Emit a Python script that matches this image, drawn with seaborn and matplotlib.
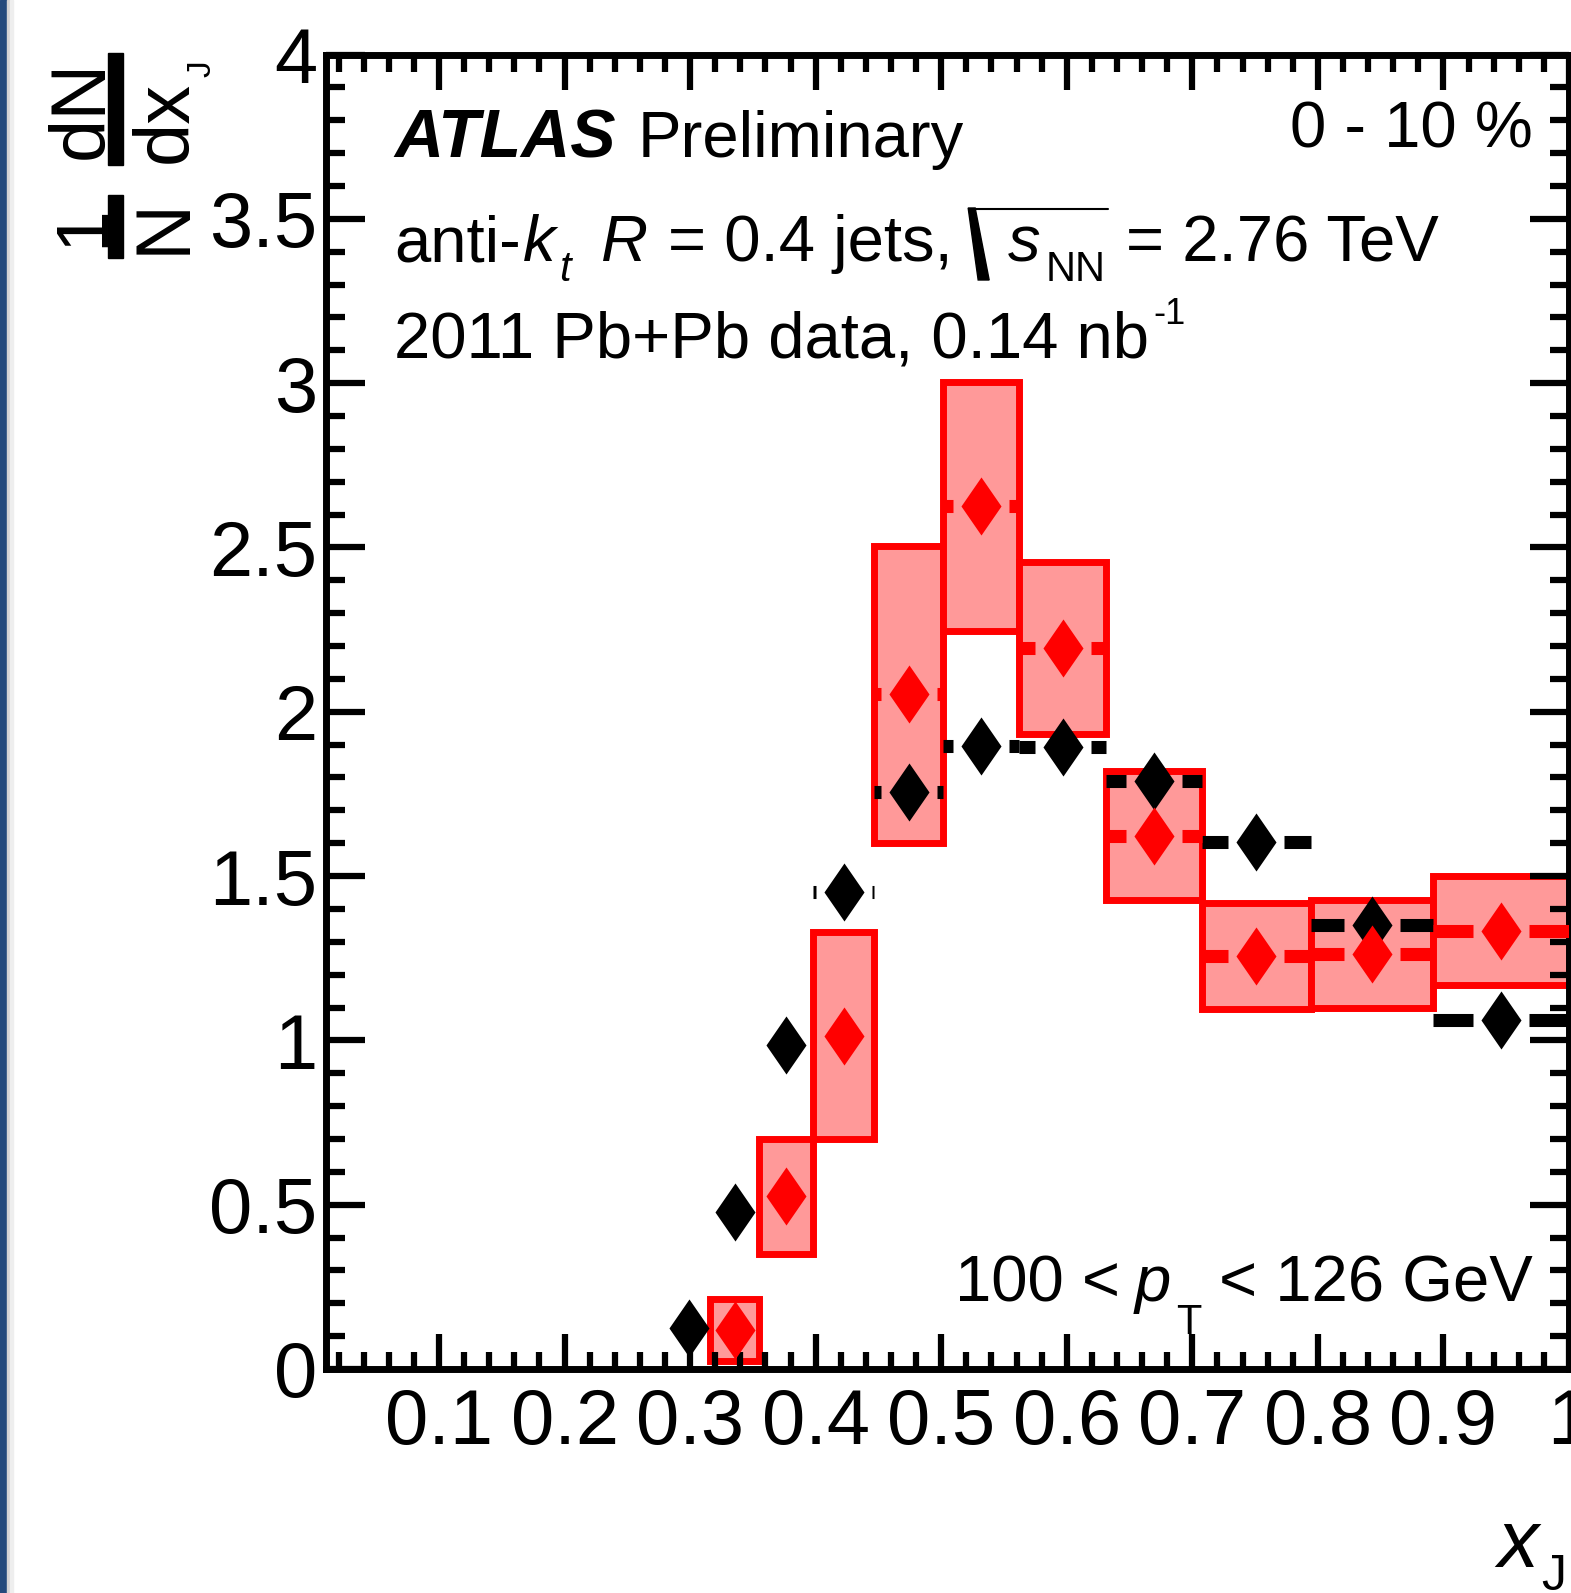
import matplotlib
matplotlib.use("Agg")
import matplotlib.pyplot as plt
import seaborn as sns
from matplotlib.patches import Rectangle, Polygon
from matplotlib.lines import Line2D
from matplotlib.ticker import MultipleLocator, FuncFormatter

# ---------------------------------------------------------------- data
# x_J bin edges (20 bins per decade)
pp_edges = [0.2818, 0.3162, 0.3548, 0.3981, 0.4467, 0.5012,
            0.5623, 0.6310, 0.7079, 0.7943, 0.8913, 1.0]
pp_values = [0.124, 0.477, 0.985, 1.451, 1.757, 1.897,
             1.894, 1.788, 1.603, 1.352, 1.062]

pbpb_edges = [0.3162, 0.3548, 0.3981, 0.4467, 0.5012,
              0.5623, 0.6310, 0.7079, 0.7943, 0.8913, 1.0]
pbpb_values = [0.119, 0.525, 1.014, 2.053, 2.625,
               2.194, 1.623, 1.257, 1.263, 1.334]
pbpb_sys = [0.094, 0.176, 0.315, 0.452, 0.379,
            0.263, 0.196, 0.162, 0.165, 0.166]

x_tick_values = [0.1, 0.2, 0.3, 0.4, 0.5, 0.6, 0.7, 0.8, 0.9, 1.0]
y_tick_values = [0, 0.5, 1, 1.5, 2, 2.5, 3, 3.5, 4]

# ---------------------------------------------------------------- style
sns.set_style("ticks")
plt.rcParams["font.family"] = ["Liberation Sans", "DejaVu Sans"]
plt.rcParams["text.color"] = "black"

W, H = 1571, 1593
fig = plt.figure(figsize=(W / 100, H / 100), dpi=100)
fig.patch.set_facecolor("white")


def fx(px):
    return px / W


def fy(py):
    return 1 - py / H


ax = fig.add_axes([fx(326), fy(1369), (1569 - 326) / W, (1369 - 54.5) / H])
ax.set_xlim(0.01, 1.0)
ax.set_ylim(0, 4)
ax.set_axisbelow(False)

RED = "#ff0000"
PINK = "#ff9999"


def centers(edges):
    return [(a + b) / 2 for a, b in zip(edges[:-1], edges[1:])]


pp_x = centers(pp_edges)
pbpb_x = centers(pbpb_edges)

# systematic boxes for Pb+Pb
lo = [v - s for v, s in zip(pbpb_values, pbpb_sys)]
hgt = [2 * s for s in pbpb_sys]
wid = [b - a for a, b in zip(pbpb_edges[:-1], pbpb_edges[1:])]
ax.bar(pbpb_edges[:-1], hgt, width=wid, bottom=lo, align="edge",
       facecolor=PINK, edgecolor=RED, linewidth=5.0, zorder=2)

# horizontal bin-width bars, interrupted around the marker
fig.canvas.draw()
renderer = fig.canvas.get_renderer()
px_per_x = ax.transData.transform((1, 0))[0] - ax.transData.transform((0, 0))[0]
gap = 28 / px_per_x


def bin_bars(edges, xs, ys, color, z):
    segs_x0, segs_x1, segs_y = [], [], []
    for a, b, c, y in zip(edges[:-1], edges[1:], xs, ys):
        if c - gap > a:
            segs_x0 += [a, c + gap]
            segs_x1 += [c - gap, b]
            segs_y += [y, y]
    lc = ax.hlines(segs_y, segs_x0, segs_x1, colors=color, linewidth=9.4, zorder=z)
    lc.set_capstyle("butt")


diamond = [(0, 0.5), (0.345, 0), (0, -0.5), (-0.345, 0), (0, 0.5)]
msize = 41.8 ** 2

bin_bars(pp_edges, pp_x, pp_values, "black", 3)
sns.scatterplot(x=pp_x, y=pp_values, marker=diamond, s=msize, color="black",
                linewidth=0, ax=ax, zorder=3.5, legend=False)

bin_bars(pbpb_edges, pbpb_x, pbpb_values, RED, 4)
sns.scatterplot(x=pbpb_x, y=pbpb_values, marker=diamond, s=msize, color=RED,
                linewidth=0, ax=ax, zorder=4.5, legend=False)

# ---------------------------------------------------------------- axes
for sp in ax.spines.values():
    sp.set_linewidth(5)
    sp.set_visible(True)
    sp.set_color("black")

ax.set_xticks(x_tick_values)
ax.set_yticks(y_tick_values)
ax.xaxis.set_minor_locator(MultipleLocator(0.02))
ax.yaxis.set_minor_locator(MultipleLocator(0.1))
fmt = FuncFormatter(lambda v, p: "%g" % round(v, 3))
ax.xaxis.set_major_formatter(fmt)
ax.yaxis.set_major_formatter(fmt)
ax.tick_params(which="both", direction="in", top=True, right=True,
               width=4.5, color="black", labelcolor="black")
ax.tick_params(axis="x", which="major", length=25, pad=13, labelsize=56)
ax.tick_params(axis="x", which="minor", length=12.5)
ax.tick_params(axis="y", which="major", length=28, pad=6, labelsize=56)
ax.tick_params(axis="y", which="minor", length=14)
ax.set_xlabel("")
ax.set_ylabel("")

# ---------------------------------------------------------------- y title: 1/N dN/dx_J
rot = dict(rotation=90, rotation_mode="anchor", transform=fig.transFigure,
           color="black")
fig.patches.append(Rectangle((fx(108), fy(258)), fx(15), (258 - 195) / H,
                             transform=fig.transFigure, color="black"))
fig.patches.append(Rectangle((fx(108), fy(165)), fx(15), (165 - 53) / H,
                             transform=fig.transFigure, color="black"))
fig.text(fx(103), fy(226), "1", ha="center", va="baseline", fontsize=54, **rot)
fig.text(fx(185), fy(226), "N", ha="center", va="baseline", fontsize=56, **rot)
fig.text(fx(103), fy(109), "dN", ha="center", va="baseline", fontsize=56, **rot)
fig.text(fx(187), fy(163), "dx", ha="left", va="baseline", fontsize=56, **rot)
fig.text(fx(210), fy(77), "J", ha="left", va="baseline", fontsize=24, **rot)

# ---------------------------------------------------------------- x title
fig.text(fx(1497), fy(1567), "x", fontsize=59, fontstyle="italic", va="baseline")
fig.text(fx(1541), fy(1590), "J", fontsize=36, va="baseline")

# ---------------------------------------------------------------- labels
S = 47          # main label size (pt)
SUB = 30        # sub/superscript size (pt)
SPACE = 0.278 * S * 100 / 72


def run(x0, y0, pieces, align="left"):
    """Lay out text pieces on one baseline: (text, size, style, dx, dy)."""
    made = []
    widths = []
    for text, size, style, dx, dy in pieces:
        t = fig.text(0, 0, text, fontsize=size, fontstyle=style,
                     va="baseline", color="black")
        widths.append(t.get_window_extent(renderer).width)
        made.append(t)
    total = sum(widths) + sum(p[3] for p in pieces)
    x = x0 - total if align == "right" else x0
    for t, w, (text, size, style, dx, dy) in zip(made, widths, pieces):
        x += dx
        t.set_position((fx(x), fy(y0 + dy)))
        x += w
    return x


fig.text(fx(394), fy(157), "ATLAS", fontsize=49, fontweight="bold",
         fontstyle="italic", va="baseline", color="black")
fig.text(fx(638), fy(157), "Preliminary", fontsize=S, va="baseline",
         color="black")

# anti-k_t R = 0.4 jets, sqrt(s_NN) = 2.76 TeV
base2 = 261
xe = run(394, base2, [
    ("anti-", S, "normal", 0, 0),
    ("k", S, "italic", 2, 0),
    ("t", SUB, "italic", 4, 20),
    ("R", S, "italic", SPACE + 12, 0),
    ("= 0.4 jets,", S, "normal", SPACE + 2, 0),
])
rx = xe + 14
top, bot = base2 - 53, base2 + 19
fig.patches.append(Polygon([(fx(rx + 1), fy(top)), (fx(rx + 8), fy(top)),
                            (fx(rx + 22), fy(bot)), (fx(rx + 11), fy(bot))],
                           closed=True, transform=fig.transFigure,
                           color="black"))
xs_end = run(rx + 41, base2, [
    ("s", S, "italic", 0, 0),
    ("NN", SUB, "normal", 5, 20),
])
fig.lines.append(Line2D([fx(rx + 6), fx(xs_end + 2)], [fy(top + 1), fy(top + 1)],
                        transform=fig.transFigure, color="black", linewidth=1.5))
run(xs_end + 20, base2, [("= 2.76 TeV", S, "normal", 0, 0)])

# 2011 Pb+Pb data, 0.14 nb^-1
run(394, 358, [
    ("2011 Pb+Pb data, 0.14 nb", S, "normal", 0, 0),
    ("-1", SUB - 4, "normal", 4, -34),
])

fig.text(fx(1533), fy(147), "0 - 10 %", fontsize=S, ha="right",
         va="baseline", color="black")

# 100 < p_T < 126 GeV
run(1533, 1301, [
    ("100 <", S, "normal", 0, 0),
    ("p", S, "italic", SPACE - 4, 0),
    ("T", SUB, "normal", 5, 33),
    ("< 126 GeV", S, "normal", SPACE, 0),
], align="right")

# ---------------------------------------------------------------- page edge
fig.patches.append(Rectangle((0, 0), fx(7), 1, transform=fig.transFigure,
                             color="#244a7c", zorder=10))
fig.patches.append(Rectangle((fx(7), 0), fx(3), 1, transform=fig.transFigure,
                             color="#d4d4d4", zorder=10))
fig.patches.append(Rectangle((fx(10), 0), fx(3), 1, transform=fig.transFigure,
                             color="#eeeeee", zorder=10))

fig.savefig("out.png", dpi=100)
